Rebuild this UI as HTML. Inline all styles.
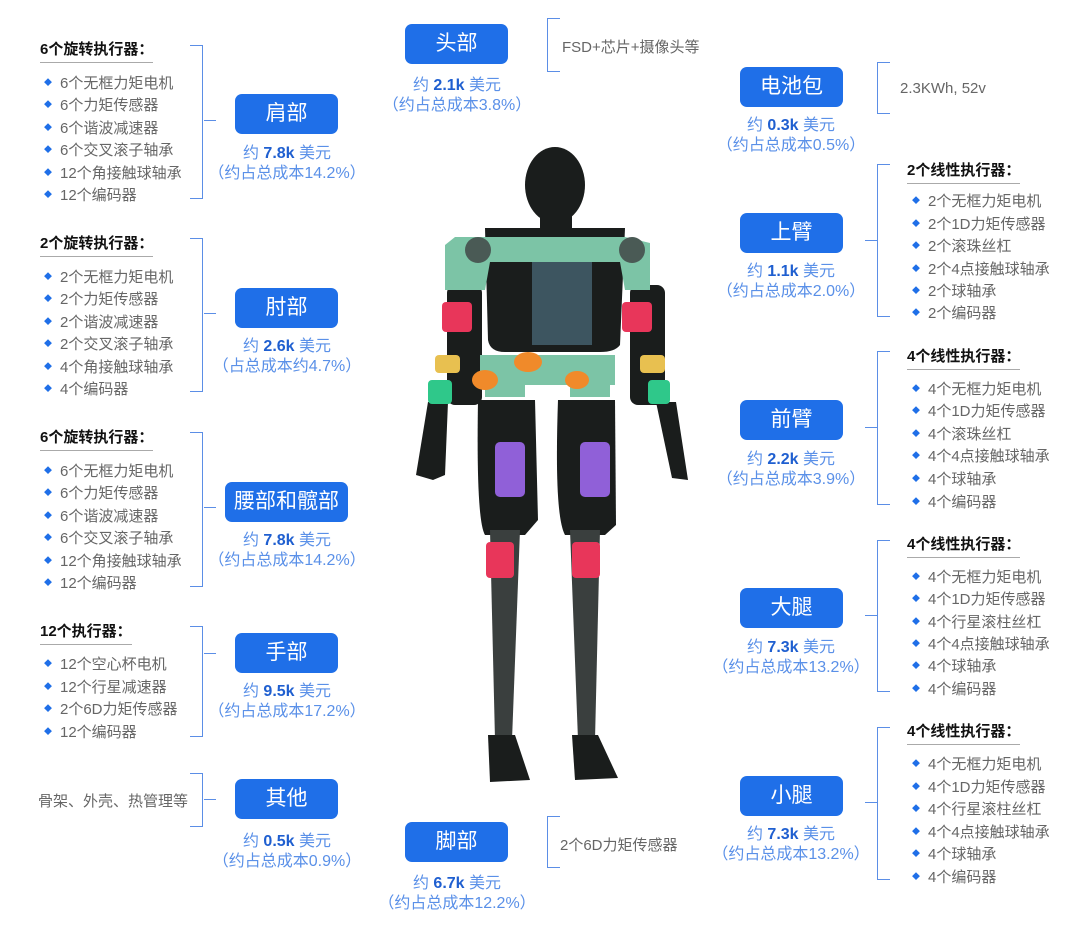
<!DOCTYPE html>
<html><head><meta charset="utf-8"><style>
body{margin:0;width:1080px;height:932px;background:#fff;position:relative;overflow:hidden;font-family:"Liberation Sans","Noto Sans CJK SC",sans-serif}
.a{position:absolute}
.btn{position:absolute;background:#1f6fe8;color:#fff;border-radius:7px;font-size:21px;text-align:center;line-height:40px;height:40px;width:103px}
.cap{position:absolute;width:200px;text-align:center;color:#5a90e8;font-size:16px;line-height:20px}
.cap b{color:#1f5fd0}
.h{position:absolute;font-weight:bold;font-size:15px;color:#111;border-bottom:1.5px solid #aaa;padding-bottom:3px;line-height:18px}
.li{position:absolute;font-size:15px;color:#666;line-height:20px;white-space:nowrap}
.li:before{content:"◆";color:#1f6fe8;font-size:8px;margin-right:8px;vertical-align:3px}
.br{position:absolute;border:1.5px solid #5b8ee6;border-left:none;width:12px}
.brr{position:absolute;border:1.5px solid #5b8ee6;border-right:none;width:12px}
.tk{position:absolute;height:0;border-top:1.5px solid #5b8ee6;width:12px}
.t{position:absolute;font-size:15px;color:#666;white-space:nowrap}
</style></head><body>

<div class="h" style="left:40px;top:41px">6个旋转执行器：</div>
<div class="li" style="left:44px;top:73px">6个无框力矩电机</div>
<div class="li" style="left:44px;top:95px">6个力矩传感器</div>
<div class="li" style="left:44px;top:118px">6个谐波减速器</div>
<div class="li" style="left:44px;top:140px">6个交叉滚子轴承</div>
<div class="li" style="left:44px;top:163px">12个角接触球轴承</div>
<div class="li" style="left:44px;top:185px">12个编码器</div>
<div class="br" style="left:190px;top:45px;height:152px"></div>
<div class="tk" style="left:204px;top:120px"></div>
<div class="btn" style="left:235px;top:94px">肩部</div>
<div class="cap" style="left:187px;top:144px">约 <b>7.8k</b> 美元<br>（约占总成本14.2%）</div>

<div class="h" style="left:40px;top:235px">2个旋转执行器：</div>
<div class="li" style="left:44px;top:267px">2个无框力矩电机</div>
<div class="li" style="left:44px;top:289px">2个力矩传感器</div>
<div class="li" style="left:44px;top:312px">2个谐波减速器</div>
<div class="li" style="left:44px;top:334px">2个交叉滚子轴承</div>
<div class="li" style="left:44px;top:357px">4个角接触球轴承</div>
<div class="li" style="left:44px;top:379px">4个编码器</div>
<div class="br" style="left:190px;top:238px;height:152px"></div>
<div class="tk" style="left:204px;top:313px"></div>
<div class="btn" style="left:235px;top:288px">肘部</div>
<div class="cap" style="left:187px;top:337px">约 <b>2.6k</b> 美元<br>（占总成本约4.7%）</div>

<div class="h" style="left:40px;top:429px">6个旋转执行器：</div>
<div class="li" style="left:44px;top:461px">6个无框力矩电机</div>
<div class="li" style="left:44px;top:483px">6个力矩传感器</div>
<div class="li" style="left:44px;top:506px">6个谐波减速器</div>
<div class="li" style="left:44px;top:528px">6个交叉滚子轴承</div>
<div class="li" style="left:44px;top:551px">12个角接触球轴承</div>
<div class="li" style="left:44px;top:573px">12个编码器</div>
<div class="br" style="left:190px;top:432px;height:153px"></div>
<div class="tk" style="left:204px;top:507px"></div>
<div class="btn" style="left:225px;top:482px;width:123px">腰部和髋部</div>
<div class="cap" style="left:187px;top:531px">约 <b>7.8k</b> 美元<br>（约占总成本14.2%）</div>

<div class="h" style="left:40px;top:623px">12个执行器：</div>
<div class="li" style="left:44px;top:654px">12个空心杯电机</div>
<div class="li" style="left:44px;top:677px">12个行星减速器</div>
<div class="li" style="left:44px;top:699px">2个6D力矩传感器</div>
<div class="li" style="left:44px;top:722px">12个编码器</div>
<div class="br" style="left:190px;top:626px;height:109px"></div>
<div class="tk" style="left:204px;top:653px"></div>
<div class="btn" style="left:235px;top:633px">手部</div>
<div class="cap" style="left:187px;top:682px">约 <b>9.5k</b> 美元<br>（约占总成本17.2%）</div>

<div class="t" style="left:38px;top:790px">骨架、外壳、热管理等</div>
<div class="br" style="left:190px;top:773px;height:52px"></div>
<div class="tk" style="left:204px;top:799px"></div>
<div class="btn" style="left:235px;top:779px">其他</div>
<div class="cap" style="left:187px;top:832px">约 <b>0.5k</b> 美元<br>（约占总成本0.9%）</div>

<div class="btn" style="left:405px;top:24px">头部</div>
<div class="cap" style="left:357px;top:76px">约 <b>2.1k</b> 美元<br>（约占总成本3.8%）</div>
<div class="brr" style="left:547px;top:18px;height:52px"></div>
<div class="t" style="left:562px;top:36px">FSD+芯片+摄像头等</div>
<div class="btn" style="left:405px;top:822px">脚部</div>
<div class="cap" style="left:357px;top:874px">约 <b>6.7k</b> 美元<br>（约占总成本12.2%）</div>
<div class="brr" style="left:547px;top:816px;height:50px"></div>
<div class="t" style="left:560px;top:834px">2个6D力矩传感器</div>

<div class="btn" style="left:740px;top:67px">电池包</div>
<div class="cap" style="left:691px;top:116px">约 <b>0.3k</b> 美元<br>（约占总成本0.5%）</div>
<div class="brr" style="left:877px;top:62px;height:50px"></div>
<div class="t" style="left:900px;top:80px">2.3KWh, 52v</div>

<div class="btn" style="left:740px;top:213px">上臂</div>
<div class="cap" style="left:691px;top:262px">约 <b>1.1k</b> 美元<br>（约占总成本2.0%）</div>
<div class="brr" style="left:877px;top:164px;height:151px"></div>
<div class="tk" style="left:865px;top:240px"></div>
<div class="h" style="left:907px;top:162px">2个线性执行器：</div>
<div class="li" style="left:912px;top:191px">2个无框力矩电机</div>
<div class="li" style="left:912px;top:214px">2个1D力矩传感器</div>
<div class="li" style="left:912px;top:236px">2个滚珠丝杠</div>
<div class="li" style="left:912px;top:259px">2个4点接触球轴承</div>
<div class="li" style="left:912px;top:281px">2个球轴承</div>
<div class="li" style="left:912px;top:303px">2个编码器</div>

<div class="btn" style="left:740px;top:400px">前臂</div>
<div class="cap" style="left:691px;top:450px">约 <b>2.2k</b> 美元<br>（约占总成本3.9%）</div>
<div class="brr" style="left:877px;top:351px;height:152px"></div>
<div class="tk" style="left:865px;top:427px"></div>
<div class="h" style="left:907px;top:348px">4个线性执行器：</div>
<div class="li" style="left:912px;top:379px">4个无框力矩电机</div>
<div class="li" style="left:912px;top:401px">4个1D力矩传感器</div>
<div class="li" style="left:912px;top:424px">4个滚珠丝杠</div>
<div class="li" style="left:912px;top:446px">4个4点接触球轴承</div>
<div class="li" style="left:912px;top:469px">4个球轴承</div>
<div class="li" style="left:912px;top:492px">4个编码器</div>

<div class="btn" style="left:740px;top:588px">大腿</div>
<div class="cap" style="left:691px;top:638px">约 <b>7.3k</b> 美元<br>（约占总成本13.2%）</div>
<div class="brr" style="left:877px;top:540px;height:150px"></div>
<div class="tk" style="left:865px;top:615px"></div>
<div class="h" style="left:907px;top:536px">4个线性执行器：</div>
<div class="li" style="left:912px;top:567px">4个无框力矩电机</div>
<div class="li" style="left:912px;top:589px">4个1D力矩传感器</div>
<div class="li" style="left:912px;top:612px">4个行星滚柱丝杠</div>
<div class="li" style="left:912px;top:634px">4个4点接触球轴承</div>
<div class="li" style="left:912px;top:656px">4个球轴承</div>
<div class="li" style="left:912px;top:679px">4个编码器</div>

<div class="btn" style="left:740px;top:776px">小腿</div>
<div class="cap" style="left:691px;top:825px">约 <b>7.3k</b> 美元<br>（约占总成本13.2%）</div>
<div class="brr" style="left:877px;top:727px;height:151px"></div>
<div class="tk" style="left:865px;top:802px"></div>
<div class="h" style="left:907px;top:723px">4个线性执行器：</div>
<div class="li" style="left:912px;top:754px">4个无框力矩电机</div>
<div class="li" style="left:912px;top:777px">4个1D力矩传感器</div>
<div class="li" style="left:912px;top:799px">4个行星滚柱丝杠</div>
<div class="li" style="left:912px;top:822px">4个4点接触球轴承</div>
<div class="li" style="left:912px;top:844px">4个球轴承</div>
<div class="li" style="left:912px;top:867px">4个编码器</div>

<svg class="a" style="left:0;top:0" width="1080" height="932">
<g fill="#1a1d1c">
<ellipse cx="555" cy="185" rx="30" ry="38"/>
<rect x="540" y="210" width="32" height="35"/>
<path d="M485 228 L625 228 L620 345 Q615 352 600 352 L505 352 Q490 352 488 340 Z"/>
<rect x="447" y="285" width="35" height="120" rx="8"/>
<rect x="630" y="285" width="35" height="120" rx="8"/>
<path d="M428 402 L448 402 L445 475 L433 480 L416 475 Z"/>
<path d="M656 402 L676 402 L688 480 L672 478 Z"/>
<path d="M478 400 L535 400 L538 520 L525 535 L485 535 Q476 520 478 400 Z"/>
<path d="M558 400 L615 400 L616 525 L605 535 L565 535 Q554 515 558 400 Z"/>
<path d="M490 530 L520 530 L512 740 L495 740 Z" fill="#3a3f3e"/>
<path d="M570 530 L600 530 L595 740 L578 740 Z" fill="#3a3f3e"/>
<path d="M488 735 L515 735 L530 780 L490 782 Z"/>
<path d="M572 735 L598 735 L618 778 L575 780 Z"/>
</g>
<rect x="532" y="255" width="60" height="90" fill="#3d5560"/>
<g fill="#7cc4a6">
<path d="M455 237 L625 237 L650 243 L650 290 L625 290 L620 262 L490 262 L485 290 L445 290 L445 245 Z"/>
<rect x="480" y="355" width="135" height="30"/>
<rect x="485" y="372" width="40" height="25"/>
<rect x="570" y="372" width="40" height="25"/>
</g>
<circle cx="478" cy="250" r="13" fill="#4a5a55"/><circle cx="632" cy="250" r="13" fill="#4a5a55"/>
<g fill="#e8365a">
<rect x="442" y="302" width="30" height="30" rx="4"/><rect x="622" y="302" width="30" height="30" rx="4"/>
<rect x="486" y="542" width="28" height="36" rx="4"/><rect x="572" y="542" width="28" height="36" rx="4"/>
</g>
<g fill="#e8c050"><rect x="435" y="355" width="25" height="18" rx="4"/><rect x="640" y="355" width="25" height="18" rx="4"/></g>
<g fill="#2fc88a"><rect x="428" y="380" width="24" height="24" rx="4"/><rect x="648" y="380" width="22" height="24" rx="4"/></g>
<g fill="#f08a2a"><ellipse cx="528" cy="362" rx="14" ry="10"/><ellipse cx="485" cy="380" rx="13" ry="10"/><ellipse cx="577" cy="380" rx="12" ry="9"/></g>
<g fill="#9060d8"><rect x="495" y="442" width="30" height="55" rx="5"/><rect x="580" y="442" width="30" height="55" rx="5"/></g>
</svg>
</body></html>
